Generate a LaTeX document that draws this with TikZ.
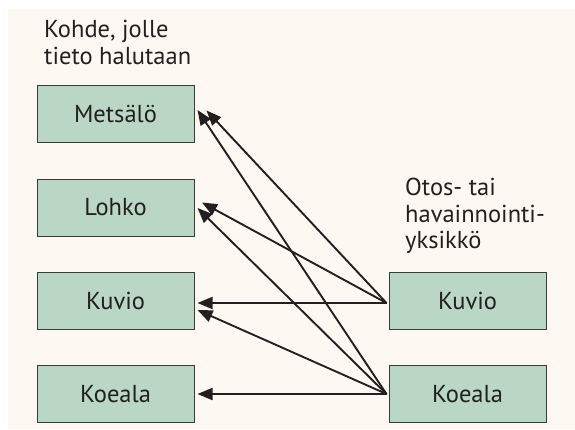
\documentclass[tikz,border=0pt]{standalone}
\usepackage{fontspec}
\setmainfont{PT Sans}
\usetikzlibrary{arrows.meta}
\definecolor{bgcream}{HTML}{FDF9F2}
\definecolor{boxgreen}{HTML}{BAD7C6}
\definecolor{boxline}{HTML}{3A3A3A}
\definecolor{inkcol}{HTML}{231F20}
\begin{document}
\begin{tikzpicture}[x=1pt,y=-1pt,
  box/.style={draw=boxline, line width=1pt, fill=boxgreen, minimum width=157pt, minimum height=57pt, inner sep=0pt, font=\fontsize{24.5}{28}\selectfont, text=inkcol},
  lbl/.style={anchor=north west, align=left, inner sep=0pt, font=\fontsize{24.5}{26.5}\selectfont, text=inkcol},
  arr/.style={draw=inkcol, line width=1.9pt, -{Triangle[length=15pt,width=12pt]}}]
\useasboundingbox (0,0) rectangle (575,429);
\fill[bgcream] (8,9) rectangle (575,429);
\node[lbl] (t1) at (44,20) {Kohde, jolle\\tieto halutaan};
\node[lbl] (t2) at (405,178) {Otos- tai\\havainnointi-\\yksikkö};
\node[box] (ml) at (115.5,114) {Metsälö};
\node[box] (ll) at (115.5,207.5) {Lohko};
\node[box] (kl) at (115.5,300.5) {Kuvio};
\node[box] (ol) at (115.5,394) {Koeala};
\node[box] (kr) at (467.5,300.5) {Kuvio};
\node[box] (or) at (467.5,394) {Koeala};
\coordinate (ks) at ([xshift=-2pt,yshift=-2.5pt]kr.west);
\coordinate (os) at ([xshift=-2pt,yshift=0pt]or.west);
\draw[arr] (os) -- ([xshift=3pt,yshift=4pt]ml.east);
\draw[arr] (ks) -- ([xshift=12pt,yshift=3.5pt]ml.east);
\draw[arr] (ks) -- ([xshift=7.5pt,yshift=5pt]ll.east);
\draw[arr] (os) -- ([xshift=3pt,yshift=-0.5pt]ll.east);
\draw[arr] (ks) -- ([xshift=3pt,yshift=-2.5pt]kl.east);
\draw[arr] (os) -- ([xshift=3pt,yshift=-9.5pt]kl.east);
\draw[arr] (os) -- ([xshift=3pt]ol.east);
\end{tikzpicture}
\end{document}
